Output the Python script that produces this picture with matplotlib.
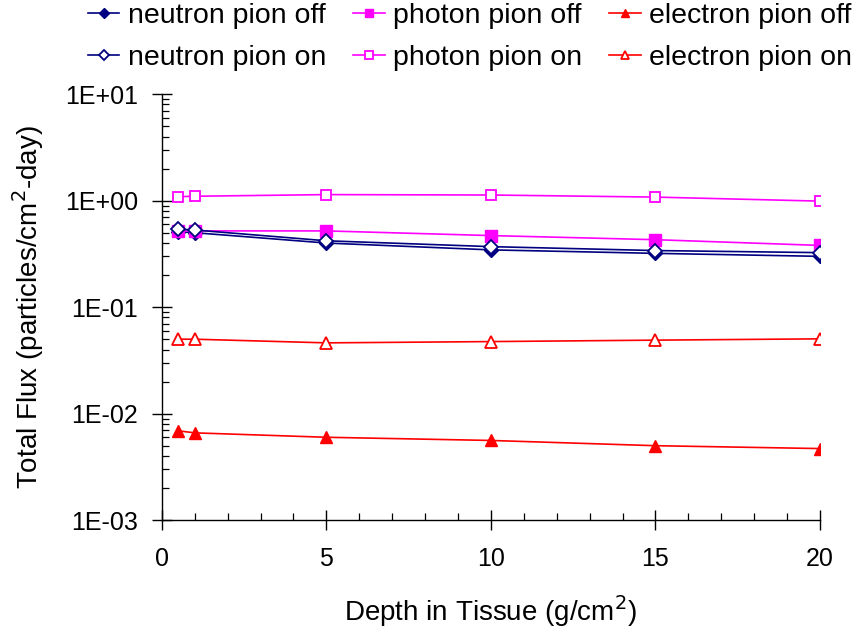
import matplotlib
matplotlib.use('Agg')
import matplotlib.pyplot as plt
from matplotlib.ticker import FixedLocator, FuncFormatter, MultipleLocator, LogLocator, NullFormatter

plt.rcParams['font.family'] = ['Liberation Sans', 'DejaVu Sans']

depth = [0.5, 1, 5, 10, 15, 20]

neutron_off = [0.51, 0.50, 0.40, 0.345, 0.32, 0.30]
neutron_on = [0.54, 0.53, 0.42, 0.37, 0.34, 0.325]
photon_off = [0.52, 0.52, 0.52, 0.47, 0.43, 0.38]
photon_on = [1.09, 1.10, 1.14, 1.13, 1.08, 0.99]
electron_off = [0.0069, 0.0066, 0.0060, 0.0056, 0.0050, 0.0047]
electron_on = [0.050, 0.050, 0.0462, 0.0475, 0.049, 0.0504]

fig = plt.figure(figsize=(8.56, 6.32), dpi=100)
ax = fig.add_axes([0.189, 0.177, 0.769, 0.674])

lw = 1.2
ax.plot(depth, neutron_off, color='#000080', lw=lw, marker='D', ms=7.5,
        mfc='#000080', mec='#000080', label='neutron pion off')
ax.plot(depth, neutron_on, color='#000080', lw=lw, marker='D', ms=7.5,
        mfc='white', mec='#000080', mew=1.3, label='neutron pion on', zorder=3)
ax.plot(depth, photon_off, color='#FF00FF', lw=lw, marker='s', ms=8,
        mfc='#FF00FF', mec='#FF00FF', label='photon pion off')
ax.plot(depth, photon_on, color='#FF00FF', lw=lw, marker='s', ms=7.5,
        mfc='white', mec='#FF00FF', mew=1.3, label='photon pion on', zorder=3)
ax.plot(depth, electron_off, color='#FF0000', lw=lw, marker='^', ms=8.5,
        mfc='#FF0000', mec='#FF0000', label='electron pion off')
ax.plot(depth, electron_on, color='#FF0000', lw=lw, marker='^', ms=8.5,
        mfc='white', mec='#FF0000', mew=1.3, label='electron pion on', zorder=3)

ax.set_yscale('log')
ax.set_ylim(1e-3, 1e1)
ax.set_xlim(0, 20)

ax.xaxis.set_major_locator(MultipleLocator(5))
ax.xaxis.set_minor_locator(MultipleLocator(1))
ax.yaxis.set_major_locator(FixedLocator([1e-3, 1e-2, 1e-1, 1e0, 1e1]))
ax.yaxis.set_minor_locator(LogLocator(base=10, subs=range(2, 10)))
ax.yaxis.set_minor_formatter(NullFormatter())
ax.yaxis.set_major_formatter(FuncFormatter(lambda v, pos: '%.0E' % v))

for side in ['top', 'right']:
    ax.spines[side].set_visible(False)
for side in ['left', 'bottom']:
    ax.spines[side].set_linewidth(1.0)

ax.tick_params(which='major', direction='inout', length=14, width=1.0,
               labelsize=18, pad=10)
ax.tick_params(which='minor', direction='in', length=5, width=0.9)
ax.tick_params(axis='x', which='major', pad=12)

ax.set_xlabel('Depth in Tissue (g/cm$^2$)', fontsize=20, labelpad=16)
ax.set_ylabel('Total Flux (particles/cm$^2$-day)', fontsize=20, labelpad=14)

handles, labels = ax.get_legend_handles_labels()
fig.legend(handles, labels, ncol=3, loc='upper left',
           bbox_to_anchor=(88 / 856, 0.9955), frameon=False, fontsize=20.5,
           handlelength=1.1, handletextpad=0.3, columnspacing=0.95,
           labelspacing=0.56, borderaxespad=0, borderpad=0, markerscale=0.7)

fig.savefig('out.png', dpi=100)
